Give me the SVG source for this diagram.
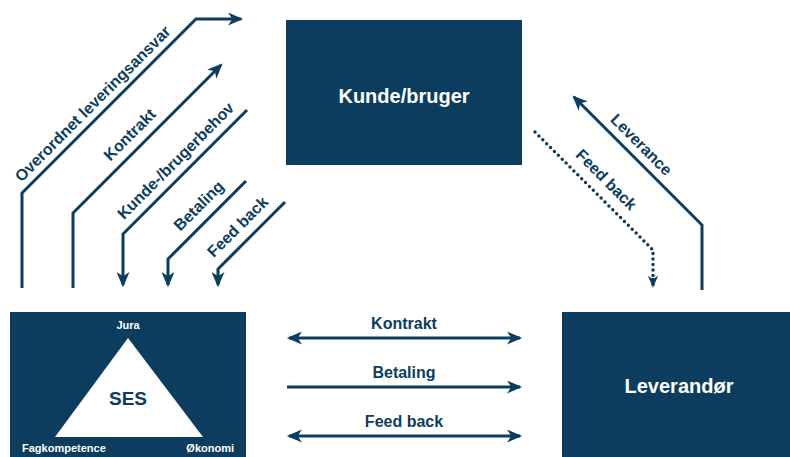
<svg xmlns="http://www.w3.org/2000/svg" width="790" height="457" viewBox="0 0 790 457">
<style>
.box{fill:#0c3d5e}
.ln{fill:none;stroke:#0c3d5e;stroke-width:3}
.dot{fill:none;stroke:#0c3d5e;stroke-width:3.5;stroke-linecap:round;stroke-dasharray:0 5.5}
.lbl{font-family:"Liberation Sans",Arial,sans-serif;font-weight:bold;font-size:16px;fill:#0c3d5e;text-anchor:middle}
.wt{font-family:"Liberation Sans",Arial,sans-serif;font-weight:bold;fill:#ffffff;text-anchor:middle}
</style>
<defs>
<marker id="ah" viewBox="0 0 14 12" refX="12" refY="6" markerWidth="16" markerHeight="13" markerUnits="userSpaceOnUse" orient="auto-start-reverse">
<path d="M0,0 L14,6 L0,12 L4,6 z" fill="#0c3d5e"/>
</marker>
<marker id="ahs" viewBox="0 0 14 12" refX="12" refY="6" markerWidth="12" markerHeight="11" markerUnits="userSpaceOnUse" orient="auto">
<path d="M0,0 L14,6 L0,12 L4,6 z" fill="#0c3d5e"/>
</marker>
</defs>
<rect width="790" height="457" fill="#ffffff"/>
<g id="kunde">
<rect class="box" x="286" y="20" width="236" height="145"/>
<text class="wt" x="404" y="103" font-size="20">Kunde/bruger</text>
</g>
<g id="ses">
<rect class="box" x="10" y="312" width="236" height="150"/>
<polygon points="128,338 55,437 203,437" fill="#ffffff"/>
<text class="wt" x="128" y="329" font-size="11">Jura</text>
<text x="128" y="405" font-family="Liberation Sans,Arial,sans-serif" font-weight="bold" font-size="19" fill="#0c3d5e" text-anchor="middle">SES</text>
<text class="wt" x="22" y="452" font-size="11" style="text-anchor:start">Fagkompetence</text>
<text class="wt" x="234" y="452" font-size="11" style="text-anchor:end">Økonomi</text>
</g>
<g id="leverandor">
<rect class="box" x="562" y="312" width="230" height="150"/>
<text class="wt" x="679" y="393" font-size="20">Leverandør</text>
</g>
<g id="connectors">
<path class="ln" d="M22,288 V193 L196,19 H241" marker-end="url(#ah)"/>
<path class="ln" d="M73,288 V213 L221,65" marker-end="url(#ah)"/>
<path class="ln" d="M247,110 L123,234 V285" marker-end="url(#ah)"/>
<path class="ln" d="M246,181 L168,259 V285" marker-end="url(#ah)"/>
<path class="ln" d="M285,202 L218,269 V285" marker-end="url(#ah)"/>
<path class="ln" d="M702,290 V225 L574,97" marker-end="url(#ah)"/>
<path class="dot" d="M535,132 L653,250 V282"/>
<path class="ln" d="M653,278 V286" stroke-width="2" marker-end="url(#ahs)"/>
<path class="ln" d="M289,338 H520" marker-start="url(#ah)" marker-end="url(#ah)"/>
<path class="ln" d="M287,387 H520" marker-end="url(#ah)"/>
<path class="ln" d="M289,436 H520" marker-start="url(#ah)" marker-end="url(#ah)"/>
</g>
<g id="labels">
<text class="lbl" transform="translate(93,104) rotate(-45)" y="5">Overordnet leveringsansvar</text>
<text class="lbl" transform="translate(130,135) rotate(-45)" y="5">Kontrakt</text>
<text class="lbl" transform="translate(176,161) rotate(-45)" y="5">Kunde-/brugerbehov</text>
<text class="lbl" transform="translate(199,206) rotate(-45)" y="5">Betaling</text>
<text class="lbl" transform="translate(238,227) rotate(-45)" y="5">Feed back</text>
<text class="lbl" transform="translate(641,145) rotate(45)" y="5">Leverance</text>
<text class="lbl" transform="translate(606,180) rotate(45)" y="5">Feed back</text>
<text class="lbl" x="404" y="329">Kontrakt</text>
<text class="lbl" x="404" y="378">Betaling</text>
<text class="lbl" x="404" y="427">Feed back</text>
</g>
</svg>
